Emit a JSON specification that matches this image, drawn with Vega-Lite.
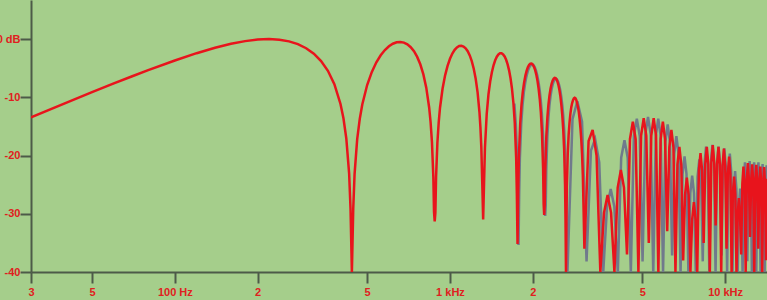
{
"$schema": "https://vega.github.io/schema/vega-lite/v6.json",
"width": 736, "height": 272,
"autosize": {"type": "none"},
"padding": {"left": 31, "top": 0, "right": 0, "bottom": 28},
"background": "#a5ce8b",
"config": {"view": {"stroke": null}, "font": "Liberation Sans"},
"data": {"values": [
{"f":30,"d":-13.45,"s":"r"},{"f":40,"d":-11.0,"s":"r"},{"f":50,"d":-9.13,"s":"r"},{"f":60,"d":-7.63,"s":"r"},{"f":70,"d":-6.39,"s":"r"},{"f":80,"d":-5.34,"s":"r"},{"f":100,"d":-3.68,"s":"r"},{"f":120,"d":-2.43,"s":"r"},{"f":140,"d":-1.5,"s":"r"},{"f":160,"d":-0.82,"s":"r"},{"f":180,"d":-0.36,"s":"r"},{"f":200,"d":-0.09,"s":"r"},{"f":220,"d":0,"s":"r"},{"f":240,"d":-0.12,"s":"r"},{"f":260,"d":-0.4,"s":"r"},{"f":280,"d":-0.88,"s":"r"},{"f":300,"d":-1.58,"s":"r"},{"f":320,"d":-2.52,"s":"r"},{"f":340,"d":-3.78,"s":"r"},{"f":360,"d":-5.46,"s":"r"},{"f":380,"d":-7.76,"s":"r"},{"f":400,"d":-11.15,"s":"r"},{"f":410,"d":-13.6,"s":"r"},{"f":420,"d":-17.1,"s":"r"},{"f":430,"d":-23.1,"s":"r"},{"f":435,"d":-29.1,"s":"r"},{"f":440,"d":-40,"s":"r"},
{"f":445,"d":-29.2,"s":"r"},{"f":450,"d":-23.2,"s":"r"},{"f":460,"d":-17.2,"s":"r"},{"f":470,"d":-13.7,"s":"r"},{"f":480,"d":-11.25,"s":"r"},{"f":500,"d":-7.9,"s":"r"},{"f":520,"d":-5.65,"s":"r"},{"f":540,"d":-4.0,"s":"r"},{"f":560,"d":-2.8,"s":"r"},{"f":580,"d":-1.9,"s":"r"},{"f":600,"d":-1.24,"s":"r"},{"f":620,"d":-0.81,"s":"r"},{"f":640,"d":-0.56,"s":"r"},{"f":660,"d":-0.5,"s":"r"},{"f":680,"d":-0.62,"s":"r"},{"f":700,"d":-0.91,"s":"r"},{"f":720,"d":-1.4,"s":"r"},{"f":740,"d":-2.1,"s":"r"},{"f":760,"d":-3.07,"s":"r"},{"f":780,"d":-4.34,"s":"r"},{"f":800,"d":-6.03,"s":"r"},{"f":820,"d":-8.35,"s":"r"},{"f":840,"d":-11.75,"s":"r"},{"f":850,"d":-14.2,"s":"r"},{"f":860,"d":-17.7,"s":"r"},{"f":870,"d":-23.7,"s":"r"},{"f":875,"d":-29.7,"s":"r"},{"f":880,"d":-31.3,"s":"r"},
{"f":885,"d":-29.8,"s":"r"},{"f":890,"d":-23.75,"s":"r"},{"f":900,"d":-17.8,"s":"r"},{"f":910,"d":-14.3,"s":"r"},{"f":920,"d":-11.8,"s":"r"},{"f":940,"d":-8.5,"s":"r"},{"f":960,"d":-6.24,"s":"r"},{"f":980,"d":-4.6,"s":"r"},{"f":1000,"d":-3.4,"s":"r"},{"f":1020,"d":-2.5,"s":"r"},{"f":1040,"d":-1.86,"s":"r"},{"f":1060,"d":-1.44,"s":"r"},{"f":1080,"d":-1.2,"s":"r"},{"f":1100,"d":-1.15,"s":"r"},{"f":1120,"d":-1.28,"s":"r"},{"f":1140,"d":-1.59,"s":"r"},{"f":1160,"d":-2.1,"s":"r"},{"f":1180,"d":-2.82,"s":"r"},{"f":1200,"d":-3.8,"s":"r"},{"f":1220,"d":-5.1,"s":"r"},{"f":1240,"d":-6.82,"s":"r"},{"f":1260,"d":-9.17,"s":"r"},{"f":1280,"d":-12.6,"s":"r"},{"f":1290,"d":-15.1,"s":"r"},{"f":1300,"d":-18.6,"s":"r"},{"f":1310,"d":-24.6,"s":"r"},{"f":1320,"d":-31,"s":"r"},
{"f":1330,"d":-24.7,"s":"r"},{"f":1340,"d":-18.7,"s":"r"},{"f":1360,"d":-12.85,"s":"r"},{"f":1380,"d":-9.5,"s":"r"},{"f":1400,"d":-7.3,"s":"r"},{"f":1420,"d":-5.7,"s":"r"},{"f":1440,"d":-4.5,"s":"r"},{"f":1460,"d":-3.65,"s":"r"},{"f":1480,"d":-3.04,"s":"r"},{"f":1500,"d":-2.66,"s":"r"},{"f":1520,"d":-2.46,"s":"r"},{"f":1540,"d":-2.45,"s":"r"},{"f":1560,"d":-2.64,"s":"r"},{"f":1580,"d":-3.0,"s":"r"},{"f":1600,"d":-3.57,"s":"r"},{"f":1620,"d":-4.35,"s":"r"},{"f":1640,"d":-5.38,"s":"r"},{"f":1660,"d":-6.73,"s":"r"},{"f":1680,"d":-8.5,"s":"r"},{"f":1700,"d":-10.9,"s":"b"},{"f":1720,"d":-14.4,"s":"b"},{"f":1740,"d":-20.4,"s":"b"},{"f":1750,"d":-26.5,"s":"b"},{"f":1760,"d":-35.2,"s":"b"},
{"f":1770,"d":-26.3,"s":"b"},{"f":1780,"d":-20.3,"s":"b"},{"f":1800,"d":-14.5,"s":"b"},{"f":1820,"d":-11.2,"s":"b"},{"f":1840,"d":-9.0,"s":"b"},{"f":1860,"d":-7.44,"s":"b"},{"f":1880,"d":-6.28,"s":"b"},{"f":1900,"d":-5.43,"s":"b"},{"f":1920,"d":-4.82,"s":"b"},{"f":1940,"d":-4.44,"s":"b"},{"f":1960,"d":-4.24,"s":"b"},{"f":1980,"d":-4.2,"s":"b"},{"f":2000,"d":-4.39,"s":"b"},{"f":2020,"d":-4.78,"s":"b"},{"f":2040,"d":-5.35,"s":"b"},{"f":2060,"d":-6.14,"s":"b"},{"f":2080,"d":-7.18,"s":"b"},{"f":2100,"d":-8.54,"s":"b"},{"f":2120,"d":-10.3,"s":"b"},{"f":2140,"d":-12.7,"s":"b"},{"f":2160,"d":-16.2,"s":"b"},{"f":2180,"d":-22.2,"s":"b"},{"f":2190,"d":-28.3,"s":"b"},{"f":2200,"d":-30.2,"s":"b"},
{"f":2210,"d":-28.4,"s":"b"},{"f":2220,"d":-22.4,"s":"b"},{"f":2240,"d":-16.6,"s":"b"},{"f":2260,"d":-13.4,"s":"b"},{"f":2280,"d":-11.2,"s":"b"},{"f":2300,"d":-9.68,"s":"b"},{"f":2320,"d":-8.53,"s":"b"},{"f":2340,"d":-7.72,"s":"b"},{"f":2360,"d":-7.16,"s":"b"},{"f":2380,"d":-6.82,"s":"b"},{"f":2400,"d":-6.67,"s":"b"},{"f":2420,"d":-6.7,"s":"b"},{"f":2440,"d":-6.94,"s":"b"},{"f":2460,"d":-7.36,"s":"b"},{"f":2480,"d":-7.97,"s":"b"},{"f":2500,"d":-8.8,"s":"b"},{"f":2520,"d":-9.88,"s":"b"},{"f":2540,"d":-11.3,"s":"b"},{"f":2560,"d":-13.1,"s":"b"},{"f":2580,"d":-15.5,"s":"b"},{"f":2600,"d":-19.0,"s":"b"},{"f":2620,"d":-25.1,"s":"b"},{"f":2630,"d":-31.1,"s":"b"},{"f":2640,"d":-40,"s":"b"},
{"f":2650,"d":-31.3,"s":"r"},{"f":2660,"d":-25.4,"s":"r"},{"f":2680,"d":-19.6,"s":"r"},{"f":2700,"d":-16.4,"s":"r"},{"f":2720,"d":-14.3,"s":"r"},{"f":2740,"d":-12.8,"s":"r"},{"f":2760,"d":-11.7,"s":"r"},{"f":2780,"d":-11.0,"s":"r"},{"f":2800,"d":-10.5,"s":"r"},{"f":2820,"d":-10.2,"s":"r"},{"f":2840,"d":-10.1,"s":"r"},{"f":2860,"d":-10.2,"s":"r"},{"f":2880,"d":-10.5,"s":"r"},{"f":2900,"d":-11.1,"s":"r"},{"f":2920,"d":-11.7,"s":"r"},{"f":2940,"d":-12.6,"s":"r"},{"f":2960,"d":-13.8,"s":"r"},{"f":2980,"d":-15.3,"s":"r"},{"f":3000,"d":-17.2,"s":"r"},{"f":3020,"d":-19.7,"s":"r"},{"f":3040,"d":-23.4,"s":"r"},{"f":3060,"d":-29.5,"s":"r"},{"f":3080,"d":-36,"s":"r"},
{"f":3190,"d":-17.5,"s":"r"},{"f":3300,"d":-15.6,"s":"r"},{"f":3410,"d":-20,"s":"r"},
{"f":3520,"d":-40,"s":"r"},{"f":3630,"d":-29.8,"s":"r"},{"f":3740,"d":-26.8,"s":"r"},{"f":3850,"d":-29.8,"s":"r"},
{"f":3960,"d":-40,"s":"r"},{"f":4070,"d":-25.5,"s":"r"},{"f":4180,"d":-22.5,"s":"r"},{"f":4290,"d":-25.5,"s":"r"},
{"f":4400,"d":-37,"s":"r"},{"f":4510,"d":-17.2,"s":"r"},{"f":4620,"d":-14.2,"s":"r"},{"f":4730,"d":-17.2,"s":"r"},
{"f":4840,"d":-40,"s":"r"},{"f":4950,"d":-16.6,"s":"r"},{"f":5060,"d":-13.6,"s":"r"},{"f":5170,"d":-16.6,"s":"r"},
{"f":5280,"d":-35,"s":"r"},{"f":5390,"d":-16.6,"s":"r"},{"f":5500,"d":-13.6,"s":"r"},{"f":5610,"d":-16.6,"s":"r"},
{"f":5720,"d":-40,"s":"r"},{"f":5830,"d":-17.2,"s":"r"},{"f":5940,"d":-14.2,"s":"r"},{"f":6050,"d":-17.2,"s":"r"},
{"f":6160,"d":-33,"s":"r"},{"f":6270,"d":-18.6,"s":"r"},{"f":6380,"d":-15.6,"s":"r"},{"f":6490,"d":-18.6,"s":"r"},
{"f":6600,"d":-40,"s":"r"},{"f":6710,"d":-21.5,"s":"r"},{"f":6820,"d":-18.5,"s":"r"},{"f":6930,"d":-21.5,"s":"r"},
{"f":7040,"d":-38,"s":"r"},{"f":7150,"d":-26.8,"s":"r"},{"f":7260,"d":-23.8,"s":"r"},{"f":7370,"d":-26.8,"s":"r"},
{"f":7480,"d":-40,"s":"r"},{"f":7590,"d":-31,"s":"r"},{"f":7700,"d":-28,"s":"r"},{"f":7810,"d":-31,"s":"r"},
{"f":7920,"d":-40,"s":"r"},{"f":8030,"d":-22.6,"s":"r"},{"f":8140,"d":-19.6,"s":"r"},{"f":8250,"d":-22.6,"s":"r"},
{"f":8360,"d":-35,"s":"r"},{"f":8470,"d":-21.5,"s":"r"},{"f":8580,"d":-18.5,"s":"r"},{"f":8690,"d":-21.5,"s":"r"},
{"f":8800,"d":-40,"s":"r"},{"f":8910,"d":-21.2,"s":"r"},{"f":9020,"d":-18.2,"s":"r"},{"f":9130,"d":-21.2,"s":"r"},
{"f":9240,"d":-32,"s":"r"},{"f":9350,"d":-21.5,"s":"r"},{"f":9460,"d":-18.5,"s":"r"},{"f":9570,"d":-21.5,"s":"r"},
{"f":9680,"d":-40,"s":"r"},{"f":9790,"d":-21.8,"s":"r"},{"f":9900,"d":-18.8,"s":"r"},{"f":10010,"d":-21.8,"s":"r"},
{"f":10120,"d":-36,"s":"r"},{"f":10230,"d":-23.2,"s":"r"},{"f":10340,"d":-20.2,"s":"r"},{"f":10450,"d":-23.2,"s":"r"},
{"f":10560,"d":-40,"s":"r"},{"f":10670,"d":-26.6,"s":"r"},{"f":10780,"d":-23.6,"s":"r"},{"f":10890,"d":-26.6,"s":"r"},
{"f":11000,"d":-40,"s":"r"},{"f":11110,"d":-30.3,"s":"r"},{"f":11220,"d":-27.3,"s":"r"},{"f":11330,"d":-30.3,"s":"r"},
{"f":11440,"d":-37,"s":"r"},{"f":11550,"d":-24.9,"s":"r"},{"f":11660,"d":-21.9,"s":"r"},{"f":11770,"d":-24.9,"s":"r"},
{"f":11880,"d":-40,"s":"r"},{"f":11990,"d":-24.3,"s":"r"},{"f":12100,"d":-21.3,"s":"r"},{"f":12210,"d":-24.3,"s":"r"},
{"f":12320,"d":-34,"s":"r"},{"f":12430,"d":-24.5,"s":"r"},{"f":12540,"d":-21.5,"s":"r"},{"f":12650,"d":-24.5,"s":"r"},
{"f":12760,"d":-40,"s":"r"},{"f":12870,"d":-24.6,"s":"r"},{"f":12980,"d":-21.6,"s":"r"},{"f":13090,"d":-24.6,"s":"r"},
{"f":13200,"d":-36,"s":"r"},{"f":13310,"d":-24.9,"s":"r"},{"f":13420,"d":-21.9,"s":"r"},{"f":13530,"d":-24.9,"s":"r"},
{"f":13640,"d":-40,"s":"r"},{"f":13750,"d":-25,"s":"r"},{"f":13860,"d":-22,"s":"r"},{"f":13970,"d":-25,"s":"r"},
{"f":14080,"d":-38,"s":"r"},{"f":14200,"d":-24,"s":"r"},
{"f":2650,"d":-40,"s":"g"},{"f":2765,"d":-13.6,"s":"g"},{"f":2880,"d":-10.5,"s":"g"},{"f":2995,"d":-14,"s":"g"},
{"f":3110,"d":-38,"s":"g"},{"f":3226,"d":-19,"s":"g"},{"f":3342,"d":-17,"s":"g"},{"f":3459,"d":-21,"s":"g"},
{"f":3575,"d":-40,"s":"g"},{"f":3691,"d":-28.6,"s":"g"},{"f":3807,"d":-25.6,"s":"g"},{"f":3924,"d":-28.6,"s":"g"},
{"f":4040,"d":-40,"s":"g"},{"f":4156,"d":-20.2,"s":"g"},{"f":4272,"d":-17.2,"s":"g"},{"f":4389,"d":-20.2,"s":"g"},
{"f":4505,"d":-40,"s":"g"},{"f":4621,"d":-16.5,"s":"g"},{"f":4737,"d":-13.5,"s":"g"},{"f":4854,"d":-16.5,"s":"g"},
{"f":4970,"d":-38,"s":"g"},{"f":5086,"d":-16.2,"s":"g"},{"f":5202,"d":-13.2,"s":"g"},{"f":5319,"d":-16.2,"s":"g"},
{"f":5435,"d":-40,"s":"g"},{"f":5551,"d":-16.5,"s":"g"},{"f":5667,"d":-13.5,"s":"g"},{"f":5784,"d":-16.5,"s":"g"},
{"f":5900,"d":-40,"s":"g"},{"f":6016,"d":-17.5,"s":"g"},{"f":6132,"d":-14.5,"s":"g"},{"f":6249,"d":-17.5,"s":"g"},
{"f":6365,"d":-37,"s":"g"},{"f":6481,"d":-19.5,"s":"g"},{"f":6597,"d":-16.5,"s":"g"},{"f":6714,"d":-19.5,"s":"g"},
{"f":6830,"d":-40,"s":"g"},{"f":6946,"d":-23,"s":"g"},{"f":7062,"d":-20,"s":"g"},{"f":7179,"d":-23,"s":"g"},
{"f":7295,"d":-40,"s":"g"},{"f":7411,"d":-26.3,"s":"g"},{"f":7527,"d":-23.3,"s":"g"},{"f":7644,"d":-26.3,"s":"g"},
{"f":7760,"d":-40,"s":"g"},{"f":7876,"d":-23.5,"s":"g"},{"f":7992,"d":-20.5,"s":"g"},{"f":8109,"d":-23.5,"s":"g"},
{"f":8225,"d":-38,"s":"g"},{"f":8341,"d":-21.3,"s":"g"},{"f":8457,"d":-18.3,"s":"g"},{"f":8574,"d":-21.3,"s":"g"},
{"f":8690,"d":-40,"s":"g"},{"f":8806,"d":-21,"s":"g"},{"f":8922,"d":-18,"s":"g"},{"f":9039,"d":-21,"s":"g"},
{"f":9155,"d":-40,"s":"g"},{"f":9271,"d":-21.3,"s":"g"},{"f":9387,"d":-18.3,"s":"g"},{"f":9504,"d":-21.3,"s":"g"},
{"f":9620,"d":-37,"s":"g"},{"f":9736,"d":-21.6,"s":"g"},{"f":9852,"d":-18.6,"s":"g"},{"f":9969,"d":-21.6,"s":"g"},
{"f":10085,"d":-40,"s":"g"},{"f":10201,"d":-22.5,"s":"g"},{"f":10317,"d":-19.5,"s":"g"},{"f":10434,"d":-22.5,"s":"g"},
{"f":10550,"d":-40,"s":"g"},{"f":10666,"d":-25.5,"s":"g"},{"f":10782,"d":-22.5,"s":"g"},{"f":10899,"d":-25.5,"s":"g"},
{"f":11015,"d":-40,"s":"g"},{"f":11131,"d":-28.5,"s":"g"},{"f":11247,"d":-25.5,"s":"g"},{"f":11364,"d":-28.5,"s":"g"},
{"f":11480,"d":-40,"s":"g"},{"f":11596,"d":-24,"s":"g"},{"f":11712,"d":-21,"s":"g"},{"f":11829,"d":-24,"s":"g"},
{"f":11945,"d":-38,"s":"g"},{"f":12061,"d":-23.8,"s":"g"},{"f":12177,"d":-20.8,"s":"g"},{"f":12294,"d":-23.8,"s":"g"},
{"f":12410,"d":-40,"s":"g"},{"f":12526,"d":-24,"s":"g"},{"f":12642,"d":-21,"s":"g"},{"f":12759,"d":-24,"s":"g"},
{"f":12875,"d":-40,"s":"g"},{"f":12991,"d":-24,"s":"g"},{"f":13107,"d":-21,"s":"g"},{"f":13224,"d":-24,"s":"g"},
{"f":13340,"d":-40,"s":"g"},{"f":13456,"d":-24.3,"s":"g"},{"f":13572,"d":-21.3,"s":"g"},{"f":13689,"d":-24.3,"s":"g"},
{"f":13805,"d":-40,"s":"g"},{"f":13921,"d":-24.5,"s":"g"},{"f":14037,"d":-21.5,"s":"g"},{"f":14154,"d":-24.5,"s":"g"},
{"f":14270,"d":-40,"s":"g"}
]},
"encoding": {
  "x": {"field": "f", "type": "quantitative",
        "scale": {"type": "log", "domain": [30, 14200], "nice": false},
        "axis": {"title": null, "grid": false,
                 "values": [30, 50, 100, 200, 500, 1000, 2000, 5000, 10000],
                 "labelExpr": "datum.value==30?'3':datum.value==50?'5':datum.value==100?'100 Hz':datum.value==200?'2':datum.value==500?'5':datum.value==1000?'1 kHz':datum.value==2000?'2':datum.value==5000?'5':'10 kHz'",
                 "domainColor": "#4d5a48", "domainWidth": 2,
                 "tickColor": "#4d5a48", "tickWidth": 2, "tickSize": 11,
                 "labelColor": "#e02020", "labelFontSize": 11, "labelFontWeight": "bold",
                 "labelPadding": 3, "labelFlush": false, "labelOverlap": false}},
  "y": {"field": "d", "type": "quantitative",
        "scale": {"domain": [-40, 6.7], "nice": false, "zero": false},
        "axis": {"title": null, "grid": false,
                 "values": [0, -10, -20, -30, -40],
                 "labelExpr": "datum.value==0?'0 dB':''+datum.value",
                 "domainColor": "#4d5a48", "domainWidth": 2,
                 "tickColor": "#4d5a48", "tickWidth": 2, "tickSize": 11,
                 "labelColor": "#e02020", "labelFontSize": 11, "labelFontWeight": "bold",
                 "labelPadding": 0, "labelFlush": false, "labelOverlap": false}}
},
"layer": [
  {"transform": [{"filter": "datum.s != 'r'"}],
   "mark": {"type": "line", "color": "#707a8c", "strokeWidth": 2.5, "xOffset": 1, "yOffset": 1, "clip": true}},
  {"transform": [{"filter": "datum.s != 'g'"}],
   "mark": {"type": "line", "color": "#e8141c", "strokeWidth": 2.5, "clip": true}}
]
}
